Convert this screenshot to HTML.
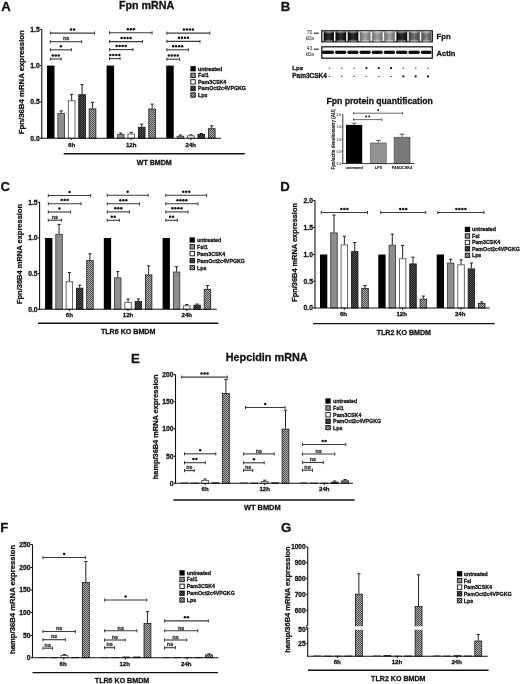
<!DOCTYPE html><html><head><meta charset="utf-8"><style>html,body{margin:0;padding:0;background:#fff;}svg{display:block;filter:blur(0.35px);}</style></head><body>
<svg width="520" height="684" viewBox="0 0 520 684" font-family='"Liberation Sans", sans-serif'>
<defs>
<pattern id="pd" width="2" height="2" patternUnits="userSpaceOnUse"><rect width="2" height="2" fill="#1a1a1a"/><rect width="1" height="1" fill="#555"/><rect x="1" y="1" width="1" height="1" fill="#555"/></pattern>
<pattern id="pl" width="2" height="2" patternUnits="userSpaceOnUse"><rect width="2" height="2" fill="#b0b0b0"/><rect width="1" height="1" fill="#4a4a4a"/><rect x="1" y="1" width="1" height="1" fill="#4a4a4a"/></pattern>
<linearGradient id="gd"><stop offset="0" stop-color="#080808"/><stop offset="0.5" stop-color="#2e2e2e"/><stop offset="1" stop-color="#080808"/></linearGradient>
<linearGradient id="gl"><stop offset="0" stop-color="#6a6a6a"/><stop offset="0.5" stop-color="#a4a4a4"/><stop offset="1" stop-color="#6a6a6a"/></linearGradient>
<linearGradient id="gm"><stop offset="0" stop-color="#3a3a3a"/><stop offset="0.5" stop-color="#747474"/><stop offset="1" stop-color="#3a3a3a"/></linearGradient>
<linearGradient id="gn"><stop offset="0" stop-color="#4a4a4a"/><stop offset="0.5" stop-color="#858585"/><stop offset="1" stop-color="#4a4a4a"/></linearGradient>
</defs>
<rect width="520" height="684" fill="#fff"/>
<text x="1.2" y="11.2" font-size="13.2" text-anchor="start" font-weight="bold" fill="#111" stroke="#111" stroke-width="0.28">A</text>
<text x="119" y="9" font-size="10.7" text-anchor="start" font-weight="bold" fill="#111" stroke="#111" stroke-width="0.28">Fpn mRNA</text>
<rect x="47" y="65.6" width="7.5" height="72.6" fill="#000"/>
<line x1="61.2" y1="110.9" x2="61.2" y2="113.2" stroke="#222" stroke-width="1"/>
<line x1="59.6" y1="110.9" x2="62.8" y2="110.9" stroke="#222" stroke-width="1"/>
<rect x="57.85" y="113.6" width="6.7" height="24.6" fill="#8e8e8e" stroke="#333" stroke-width="0.8"/>
<line x1="71.65" y1="94.3" x2="71.65" y2="100.4" stroke="#222" stroke-width="1"/>
<line x1="70.05" y1="94.3" x2="73.25" y2="94.3" stroke="#222" stroke-width="1"/>
<rect x="68.3" y="100.8" width="6.7" height="37.4" fill="#fff" stroke="#444" stroke-width="0.8"/>
<line x1="82.1" y1="84.6" x2="82.1" y2="94.3" stroke="#222" stroke-width="1"/>
<line x1="80.5" y1="84.6" x2="83.7" y2="84.6" stroke="#222" stroke-width="1"/>
<rect x="78.75" y="94.7" width="6.7" height="43.5" fill="url(#pd)" stroke="#111" stroke-width="0.8"/>
<line x1="92.55" y1="102.4" x2="92.55" y2="108.5" stroke="#222" stroke-width="1"/>
<line x1="90.95" y1="102.4" x2="94.15" y2="102.4" stroke="#222" stroke-width="1"/>
<rect x="89.2" y="108.9" width="6.7" height="29.3" fill="url(#pl)" stroke="#1a1a1a" stroke-width="0.8"/>
<rect x="106.6" y="65.6" width="7.5" height="72.6" fill="#000"/>
<line x1="120.8" y1="133" x2="120.8" y2="134.2" stroke="#222" stroke-width="1"/>
<line x1="119.2" y1="133" x2="122.4" y2="133" stroke="#222" stroke-width="1"/>
<rect x="117.45" y="134.6" width="6.7" height="3.6" fill="#8e8e8e" stroke="#333" stroke-width="0.8"/>
<line x1="131.25" y1="132.4" x2="131.25" y2="133.7" stroke="#222" stroke-width="1"/>
<line x1="129.65" y1="132.4" x2="132.85" y2="132.4" stroke="#222" stroke-width="1"/>
<rect x="127.9" y="134.1" width="6.7" height="4.1" fill="#fff" stroke="#444" stroke-width="0.8"/>
<line x1="141.7" y1="124.2" x2="141.7" y2="126.9" stroke="#222" stroke-width="1"/>
<line x1="140.1" y1="124.2" x2="143.3" y2="124.2" stroke="#222" stroke-width="1"/>
<rect x="138.35" y="127.3" width="6.7" height="10.9" fill="url(#pd)" stroke="#111" stroke-width="0.8"/>
<line x1="152.15" y1="104.1" x2="152.15" y2="108.6" stroke="#222" stroke-width="1"/>
<line x1="150.55" y1="104.1" x2="153.75" y2="104.1" stroke="#222" stroke-width="1"/>
<rect x="148.8" y="109" width="6.7" height="29.2" fill="url(#pl)" stroke="#1a1a1a" stroke-width="0.8"/>
<rect x="166.2" y="65.6" width="7.5" height="72.6" fill="#000"/>
<line x1="180.4" y1="135" x2="180.4" y2="135.8" stroke="#222" stroke-width="1"/>
<line x1="178.8" y1="135" x2="182" y2="135" stroke="#222" stroke-width="1"/>
<rect x="177.05" y="136.2" width="6.7" height="2" fill="#8e8e8e" stroke="#333" stroke-width="0.8"/>
<line x1="190.85" y1="134.8" x2="190.85" y2="135.4" stroke="#222" stroke-width="1"/>
<line x1="189.25" y1="134.8" x2="192.45" y2="134.8" stroke="#222" stroke-width="1"/>
<rect x="187.5" y="135.8" width="6.7" height="2.4" fill="#fff" stroke="#444" stroke-width="0.8"/>
<line x1="201.3" y1="133.5" x2="201.3" y2="134" stroke="#222" stroke-width="1"/>
<line x1="199.7" y1="133.5" x2="202.9" y2="133.5" stroke="#222" stroke-width="1"/>
<rect x="197.95" y="134.4" width="6.7" height="3.8" fill="url(#pd)" stroke="#111" stroke-width="0.8"/>
<line x1="211.75" y1="125.8" x2="211.75" y2="128.3" stroke="#222" stroke-width="1"/>
<line x1="210.15" y1="125.8" x2="213.35" y2="125.8" stroke="#222" stroke-width="1"/>
<rect x="208.4" y="128.7" width="6.7" height="9.5" fill="url(#pl)" stroke="#1a1a1a" stroke-width="0.8"/>
<line x1="41.8" y1="29.3" x2="41.8" y2="138.7" stroke="#111" stroke-width="1.1"/>
<line x1="41.3" y1="138.2" x2="221" y2="138.2" stroke="#111" stroke-width="1.1"/>
<line x1="40" y1="29.3" x2="41.8" y2="29.3" stroke="#111" stroke-width="1"/>
<text x="39.8" y="31.75" font-size="6.8" text-anchor="end" font-weight="bold" fill="#111" stroke="#111" stroke-width="0.28">1.5</text>
<line x1="40" y1="65.6" x2="41.8" y2="65.6" stroke="#111" stroke-width="1"/>
<text x="39.8" y="68.05" font-size="6.8" text-anchor="end" font-weight="bold" fill="#111" stroke="#111" stroke-width="0.28">1.0</text>
<line x1="40" y1="102" x2="41.8" y2="102" stroke="#111" stroke-width="1"/>
<text x="39.8" y="104.45" font-size="6.8" text-anchor="end" font-weight="bold" fill="#111" stroke="#111" stroke-width="0.28">0.5</text>
<line x1="40" y1="138.2" x2="41.8" y2="138.2" stroke="#111" stroke-width="1"/>
<text x="39.8" y="140.65" font-size="6.8" text-anchor="end" font-weight="bold" fill="#111" stroke="#111" stroke-width="0.28">0.0</text>
<line x1="71.65" y1="138.2" x2="71.65" y2="140" stroke="#111" stroke-width="1"/>
<line x1="131.25" y1="138.2" x2="131.25" y2="140" stroke="#111" stroke-width="1"/>
<line x1="190.85" y1="138.2" x2="190.85" y2="140" stroke="#111" stroke-width="1"/>
<line x1="50.4" y1="33.1" x2="94.6" y2="33.1" stroke="#3a3a3a" stroke-width="1.1"/>
<line x1="50.4" y1="31.5" x2="50.4" y2="34.7" stroke="#3a3a3a" stroke-width="1"/>
<line x1="94.6" y1="31.5" x2="94.6" y2="34.7" stroke="#3a3a3a" stroke-width="1"/>
<circle cx="71" cy="29.5" r="1.25" fill="#111"/>
<circle cx="74" cy="29.5" r="1.25" fill="#111"/>
<line x1="50.4" y1="41.7" x2="81.7" y2="41.7" stroke="#3a3a3a" stroke-width="1.1"/>
<line x1="50.4" y1="40.1" x2="50.4" y2="43.3" stroke="#3a3a3a" stroke-width="1"/>
<line x1="81.7" y1="40.1" x2="81.7" y2="43.3" stroke="#3a3a3a" stroke-width="1"/>
<text x="66.05" y="40.4" font-size="5.4" text-anchor="middle" font-weight="bold" fill="#333" stroke="#333" stroke-width="0.28">ns</text>
<line x1="50.4" y1="49.8" x2="71.3" y2="49.8" stroke="#3a3a3a" stroke-width="1.1"/>
<line x1="50.4" y1="48.2" x2="50.4" y2="51.4" stroke="#3a3a3a" stroke-width="1"/>
<line x1="71.3" y1="48.2" x2="71.3" y2="51.4" stroke="#3a3a3a" stroke-width="1"/>
<circle cx="60.85" cy="46.2" r="1.25" fill="#111"/>
<line x1="50.4" y1="59" x2="61.2" y2="59" stroke="#3a3a3a" stroke-width="1.1"/>
<line x1="50.4" y1="57.4" x2="50.4" y2="60.6" stroke="#3a3a3a" stroke-width="1"/>
<line x1="61.2" y1="57.4" x2="61.2" y2="60.6" stroke="#3a3a3a" stroke-width="1"/>
<circle cx="52.8" cy="55.4" r="1.25" fill="#111"/>
<circle cx="55.8" cy="55.4" r="1.25" fill="#111"/>
<circle cx="58.8" cy="55.4" r="1.25" fill="#111"/>
<line x1="109.5" y1="32.8" x2="152.1" y2="32.8" stroke="#3a3a3a" stroke-width="1.1"/>
<line x1="109.5" y1="31.2" x2="109.5" y2="34.4" stroke="#3a3a3a" stroke-width="1"/>
<line x1="152.1" y1="31.2" x2="152.1" y2="34.4" stroke="#3a3a3a" stroke-width="1"/>
<circle cx="127.8" cy="29.2" r="1.25" fill="#111"/>
<circle cx="130.8" cy="29.2" r="1.25" fill="#111"/>
<circle cx="133.8" cy="29.2" r="1.25" fill="#111"/>
<line x1="109.5" y1="41.6" x2="142.6" y2="41.6" stroke="#3a3a3a" stroke-width="1.1"/>
<line x1="109.5" y1="40" x2="109.5" y2="43.2" stroke="#3a3a3a" stroke-width="1"/>
<line x1="142.6" y1="40" x2="142.6" y2="43.2" stroke="#3a3a3a" stroke-width="1"/>
<circle cx="121.55" cy="38" r="1.25" fill="#111"/>
<circle cx="124.55" cy="38" r="1.25" fill="#111"/>
<circle cx="127.55" cy="38" r="1.25" fill="#111"/>
<circle cx="130.55" cy="38" r="1.25" fill="#111"/>
<line x1="109.5" y1="49.6" x2="132.9" y2="49.6" stroke="#3a3a3a" stroke-width="1.1"/>
<line x1="109.5" y1="48" x2="109.5" y2="51.2" stroke="#3a3a3a" stroke-width="1"/>
<line x1="132.9" y1="48" x2="132.9" y2="51.2" stroke="#3a3a3a" stroke-width="1"/>
<circle cx="116.7" cy="46" r="1.25" fill="#111"/>
<circle cx="119.7" cy="46" r="1.25" fill="#111"/>
<circle cx="122.7" cy="46" r="1.25" fill="#111"/>
<circle cx="125.7" cy="46" r="1.25" fill="#111"/>
<line x1="109.5" y1="58.6" x2="120.1" y2="58.6" stroke="#3a3a3a" stroke-width="1.1"/>
<line x1="109.5" y1="57" x2="109.5" y2="60.2" stroke="#3a3a3a" stroke-width="1"/>
<line x1="120.1" y1="57" x2="120.1" y2="60.2" stroke="#3a3a3a" stroke-width="1"/>
<circle cx="110.3" cy="55" r="1.25" fill="#111"/>
<circle cx="113.3" cy="55" r="1.25" fill="#111"/>
<circle cx="116.3" cy="55" r="1.25" fill="#111"/>
<circle cx="119.3" cy="55" r="1.25" fill="#111"/>
<line x1="166.9" y1="33.1" x2="209.8" y2="33.1" stroke="#3a3a3a" stroke-width="1.1"/>
<line x1="166.9" y1="31.5" x2="166.9" y2="34.7" stroke="#3a3a3a" stroke-width="1"/>
<line x1="209.8" y1="31.5" x2="209.8" y2="34.7" stroke="#3a3a3a" stroke-width="1"/>
<circle cx="183.85" cy="29.5" r="1.25" fill="#111"/>
<circle cx="186.85" cy="29.5" r="1.25" fill="#111"/>
<circle cx="189.85" cy="29.5" r="1.25" fill="#111"/>
<circle cx="192.85" cy="29.5" r="1.25" fill="#111"/>
<line x1="166.9" y1="41.4" x2="200" y2="41.4" stroke="#3a3a3a" stroke-width="1.1"/>
<line x1="166.9" y1="39.8" x2="166.9" y2="43" stroke="#3a3a3a" stroke-width="1"/>
<line x1="200" y1="39.8" x2="200" y2="43" stroke="#3a3a3a" stroke-width="1"/>
<circle cx="178.95" cy="37.8" r="1.25" fill="#111"/>
<circle cx="181.95" cy="37.8" r="1.25" fill="#111"/>
<circle cx="184.95" cy="37.8" r="1.25" fill="#111"/>
<circle cx="187.95" cy="37.8" r="1.25" fill="#111"/>
<line x1="166.9" y1="49.8" x2="188.3" y2="49.8" stroke="#3a3a3a" stroke-width="1.1"/>
<line x1="166.9" y1="48.2" x2="166.9" y2="51.4" stroke="#3a3a3a" stroke-width="1"/>
<line x1="188.3" y1="48.2" x2="188.3" y2="51.4" stroke="#3a3a3a" stroke-width="1"/>
<circle cx="173.1" cy="46.2" r="1.25" fill="#111"/>
<circle cx="176.1" cy="46.2" r="1.25" fill="#111"/>
<circle cx="179.1" cy="46.2" r="1.25" fill="#111"/>
<circle cx="182.1" cy="46.2" r="1.25" fill="#111"/>
<line x1="166.9" y1="59.2" x2="179.6" y2="59.2" stroke="#3a3a3a" stroke-width="1.1"/>
<line x1="166.9" y1="57.6" x2="166.9" y2="60.8" stroke="#3a3a3a" stroke-width="1"/>
<line x1="179.6" y1="57.6" x2="179.6" y2="60.8" stroke="#3a3a3a" stroke-width="1"/>
<circle cx="168.75" cy="55.6" r="1.25" fill="#111"/>
<circle cx="171.75" cy="55.6" r="1.25" fill="#111"/>
<circle cx="174.75" cy="55.6" r="1.25" fill="#111"/>
<circle cx="177.75" cy="55.6" r="1.25" fill="#111"/>
<text x="71.65" y="146.6" font-size="6.1" text-anchor="middle" font-weight="bold" fill="#111" stroke="#111" stroke-width="0.28">6h</text>
<text x="131.25" y="146.6" font-size="6.1" text-anchor="middle" font-weight="bold" fill="#111" stroke="#111" stroke-width="0.28">12h</text>
<text x="190.85" y="146.6" font-size="6.1" text-anchor="middle" font-weight="bold" fill="#111" stroke="#111" stroke-width="0.28">24h</text>
<line x1="63.7" y1="153.7" x2="244.8" y2="153.7" stroke="#111" stroke-width="1.4"/>
<text x="154.25" y="165.4" font-size="7.1" text-anchor="middle" font-weight="bold" fill="#111" stroke="#111" stroke-width="0.28">WT BMDM</text>
<text x="24" y="82.2" font-size="7.8" text-anchor="middle" font-weight="bold" fill="#111" transform="rotate(-90 24 82.2)" stroke="#111" stroke-width="0.28">Fpn/36B4 mRNA expression</text>
<rect x="190.4" y="66.05" width="5.3" height="5.3" fill="#000"/>
<text x="198" y="70.61" font-size="5.3" text-anchor="start" font-weight="bold" fill="#111" stroke="#111" stroke-width="0.28">untreated</text>
<rect x="190.85" y="73.2" width="4.4" height="4.4" fill="#8e8e8e" stroke="#111" stroke-width="0.9"/>
<text x="198" y="77.31" font-size="5.3" text-anchor="start" font-weight="bold" fill="#111" stroke="#111" stroke-width="0.28">Fsl1</text>
<rect x="190.85" y="79.7" width="4.4" height="4.4" fill="#fff" stroke="#111" stroke-width="0.9"/>
<text x="198" y="83.81" font-size="5.3" text-anchor="start" font-weight="bold" fill="#111" stroke="#111" stroke-width="0.28">Pam3CSK4</text>
<rect x="190.85" y="86.3" width="4.4" height="4.4" fill="url(#pd)" stroke="#111" stroke-width="0.9"/>
<text x="198" y="90.41" font-size="5.3" text-anchor="start" font-weight="bold" fill="#111" stroke="#111" stroke-width="0.28">PamOct2c4VPGKG</text>
<rect x="190.85" y="92.8" width="4.4" height="4.4" fill="url(#pl)" stroke="#111" stroke-width="0.9"/>
<text x="198" y="96.91" font-size="5.3" text-anchor="start" font-weight="bold" fill="#111" stroke="#111" stroke-width="0.28">Lps</text>
<text x="0.6" y="190.9" font-size="13.2" text-anchor="start" font-weight="bold" fill="#111" stroke="#111" stroke-width="0.28">C</text>
<rect x="45.1" y="238" width="7.3" height="71.2" fill="#000"/>
<line x1="59.05" y1="224.4" x2="59.05" y2="233.9" stroke="#222" stroke-width="1"/>
<line x1="57.45" y1="224.4" x2="60.65" y2="224.4" stroke="#222" stroke-width="1"/>
<rect x="55.8" y="234.3" width="6.5" height="74.9" fill="#8e8e8e" stroke="#333" stroke-width="0.8"/>
<line x1="69.35" y1="272.5" x2="69.35" y2="281.4" stroke="#222" stroke-width="1"/>
<line x1="67.75" y1="272.5" x2="70.95" y2="272.5" stroke="#222" stroke-width="1"/>
<rect x="66.1" y="281.8" width="6.5" height="27.4" fill="#fff" stroke="#444" stroke-width="0.8"/>
<line x1="79.65" y1="285.2" x2="79.65" y2="287.8" stroke="#222" stroke-width="1"/>
<line x1="78.05" y1="285.2" x2="81.25" y2="285.2" stroke="#222" stroke-width="1"/>
<rect x="76.4" y="288.2" width="6.5" height="21" fill="url(#pd)" stroke="#111" stroke-width="0.8"/>
<line x1="89.95" y1="253.8" x2="89.95" y2="260.2" stroke="#222" stroke-width="1"/>
<line x1="88.35" y1="253.8" x2="91.55" y2="253.8" stroke="#222" stroke-width="1"/>
<rect x="86.7" y="260.6" width="6.5" height="48.6" fill="url(#pl)" stroke="#1a1a1a" stroke-width="0.8"/>
<rect x="103.8" y="238" width="7.3" height="71.2" fill="#000"/>
<line x1="117.75" y1="271.6" x2="117.75" y2="277.4" stroke="#222" stroke-width="1"/>
<line x1="116.15" y1="271.6" x2="119.35" y2="271.6" stroke="#222" stroke-width="1"/>
<rect x="114.5" y="277.8" width="6.5" height="31.4" fill="#8e8e8e" stroke="#333" stroke-width="0.8"/>
<line x1="128.05" y1="299" x2="128.05" y2="301.9" stroke="#222" stroke-width="1"/>
<line x1="126.45" y1="299" x2="129.65" y2="299" stroke="#222" stroke-width="1"/>
<rect x="124.8" y="302.3" width="6.5" height="6.9" fill="#fff" stroke="#444" stroke-width="0.8"/>
<line x1="138.35" y1="299" x2="138.35" y2="301" stroke="#222" stroke-width="1"/>
<line x1="136.75" y1="299" x2="139.95" y2="299" stroke="#222" stroke-width="1"/>
<rect x="135.1" y="301.4" width="6.5" height="7.8" fill="url(#pd)" stroke="#111" stroke-width="0.8"/>
<line x1="148.65" y1="265.9" x2="148.65" y2="274.5" stroke="#222" stroke-width="1"/>
<line x1="147.05" y1="265.9" x2="150.25" y2="265.9" stroke="#222" stroke-width="1"/>
<rect x="145.4" y="274.9" width="6.5" height="34.3" fill="url(#pl)" stroke="#1a1a1a" stroke-width="0.8"/>
<rect x="162.6" y="238" width="7.3" height="71.2" fill="#000"/>
<line x1="176.55" y1="266.7" x2="176.55" y2="271.6" stroke="#222" stroke-width="1"/>
<line x1="174.95" y1="266.7" x2="178.15" y2="266.7" stroke="#222" stroke-width="1"/>
<rect x="173.3" y="272" width="6.5" height="37.2" fill="#8e8e8e" stroke="#333" stroke-width="0.8"/>
<line x1="186.85" y1="304.5" x2="186.85" y2="305.4" stroke="#222" stroke-width="1"/>
<line x1="185.25" y1="304.5" x2="188.45" y2="304.5" stroke="#222" stroke-width="1"/>
<rect x="183.6" y="305.8" width="6.5" height="3.4" fill="#fff" stroke="#444" stroke-width="0.8"/>
<line x1="197.15" y1="304" x2="197.15" y2="304.8" stroke="#222" stroke-width="1"/>
<line x1="195.55" y1="304" x2="198.75" y2="304" stroke="#222" stroke-width="1"/>
<rect x="193.9" y="305.2" width="6.5" height="4" fill="url(#pd)" stroke="#111" stroke-width="0.8"/>
<line x1="207.45" y1="285.5" x2="207.45" y2="288.9" stroke="#222" stroke-width="1"/>
<line x1="205.85" y1="285.5" x2="209.05" y2="285.5" stroke="#222" stroke-width="1"/>
<rect x="204.2" y="289.3" width="6.5" height="19.9" fill="url(#pl)" stroke="#1a1a1a" stroke-width="0.8"/>
<line x1="39.6" y1="202.1" x2="39.6" y2="309.7" stroke="#111" stroke-width="1.1"/>
<line x1="39.1" y1="309.2" x2="216.8" y2="309.2" stroke="#111" stroke-width="1.1"/>
<line x1="37.8" y1="202.1" x2="39.6" y2="202.1" stroke="#111" stroke-width="1"/>
<text x="37.6" y="204.55" font-size="6.8" text-anchor="end" font-weight="bold" fill="#111" stroke="#111" stroke-width="0.28">1.5</text>
<line x1="37.8" y1="238" x2="39.6" y2="238" stroke="#111" stroke-width="1"/>
<text x="37.6" y="240.45" font-size="6.8" text-anchor="end" font-weight="bold" fill="#111" stroke="#111" stroke-width="0.28">1.0</text>
<line x1="37.8" y1="273.6" x2="39.6" y2="273.6" stroke="#111" stroke-width="1"/>
<text x="37.6" y="276.05" font-size="6.8" text-anchor="end" font-weight="bold" fill="#111" stroke="#111" stroke-width="0.28">0.5</text>
<line x1="37.8" y1="309.2" x2="39.6" y2="309.2" stroke="#111" stroke-width="1"/>
<text x="37.6" y="311.65" font-size="6.8" text-anchor="end" font-weight="bold" fill="#111" stroke="#111" stroke-width="0.28">0.0</text>
<line x1="69.35" y1="309.2" x2="69.35" y2="311" stroke="#111" stroke-width="1"/>
<line x1="128.05" y1="309.2" x2="128.05" y2="311" stroke="#111" stroke-width="1"/>
<line x1="186.85" y1="309.2" x2="186.85" y2="311" stroke="#111" stroke-width="1"/>
<line x1="48.3" y1="195.5" x2="90.7" y2="195.5" stroke="#3a3a3a" stroke-width="1.1"/>
<line x1="48.3" y1="193.9" x2="48.3" y2="197.1" stroke="#3a3a3a" stroke-width="1"/>
<line x1="90.7" y1="193.9" x2="90.7" y2="197.1" stroke="#3a3a3a" stroke-width="1"/>
<circle cx="69.5" cy="191.9" r="1.25" fill="#111"/>
<line x1="48.3" y1="203.7" x2="81" y2="203.7" stroke="#3a3a3a" stroke-width="1.1"/>
<line x1="48.3" y1="202.1" x2="48.3" y2="205.3" stroke="#3a3a3a" stroke-width="1"/>
<line x1="81" y1="202.1" x2="81" y2="205.3" stroke="#3a3a3a" stroke-width="1"/>
<circle cx="61.65" cy="200.1" r="1.25" fill="#111"/>
<circle cx="64.65" cy="200.1" r="1.25" fill="#111"/>
<circle cx="67.65" cy="200.1" r="1.25" fill="#111"/>
<line x1="48.3" y1="212" x2="70.6" y2="212" stroke="#3a3a3a" stroke-width="1.1"/>
<line x1="48.3" y1="210.4" x2="48.3" y2="213.6" stroke="#3a3a3a" stroke-width="1"/>
<line x1="70.6" y1="210.4" x2="70.6" y2="213.6" stroke="#3a3a3a" stroke-width="1"/>
<circle cx="59.45" cy="208.4" r="1.25" fill="#111"/>
<line x1="48.3" y1="220.2" x2="61.5" y2="220.2" stroke="#3a3a3a" stroke-width="1.1"/>
<line x1="48.3" y1="218.6" x2="48.3" y2="221.8" stroke="#3a3a3a" stroke-width="1"/>
<line x1="61.5" y1="218.6" x2="61.5" y2="221.8" stroke="#3a3a3a" stroke-width="1"/>
<text x="54.9" y="218.9" font-size="5.4" text-anchor="middle" font-weight="bold" fill="#333" stroke="#333" stroke-width="0.28">ns</text>
<line x1="107.2" y1="195.3" x2="148.2" y2="195.3" stroke="#3a3a3a" stroke-width="1.1"/>
<line x1="107.2" y1="193.7" x2="107.2" y2="196.9" stroke="#3a3a3a" stroke-width="1"/>
<line x1="148.2" y1="193.7" x2="148.2" y2="196.9" stroke="#3a3a3a" stroke-width="1"/>
<circle cx="127.7" cy="191.7" r="1.25" fill="#111"/>
<line x1="107.2" y1="203.8" x2="139.5" y2="203.8" stroke="#3a3a3a" stroke-width="1.1"/>
<line x1="107.2" y1="202.2" x2="107.2" y2="205.4" stroke="#3a3a3a" stroke-width="1"/>
<line x1="139.5" y1="202.2" x2="139.5" y2="205.4" stroke="#3a3a3a" stroke-width="1"/>
<circle cx="120.35" cy="200.2" r="1.25" fill="#111"/>
<circle cx="123.35" cy="200.2" r="1.25" fill="#111"/>
<circle cx="126.35" cy="200.2" r="1.25" fill="#111"/>
<line x1="107.2" y1="211.9" x2="129.4" y2="211.9" stroke="#3a3a3a" stroke-width="1.1"/>
<line x1="107.2" y1="210.3" x2="107.2" y2="213.5" stroke="#3a3a3a" stroke-width="1"/>
<line x1="129.4" y1="210.3" x2="129.4" y2="213.5" stroke="#3a3a3a" stroke-width="1"/>
<circle cx="115.3" cy="208.3" r="1.25" fill="#111"/>
<circle cx="118.3" cy="208.3" r="1.25" fill="#111"/>
<circle cx="121.3" cy="208.3" r="1.25" fill="#111"/>
<line x1="107.2" y1="220.3" x2="119.3" y2="220.3" stroke="#3a3a3a" stroke-width="1.1"/>
<line x1="107.2" y1="218.7" x2="107.2" y2="221.9" stroke="#3a3a3a" stroke-width="1"/>
<line x1="119.3" y1="218.7" x2="119.3" y2="221.9" stroke="#3a3a3a" stroke-width="1"/>
<circle cx="111.75" cy="216.7" r="1.25" fill="#111"/>
<circle cx="114.75" cy="216.7" r="1.25" fill="#111"/>
<line x1="165.8" y1="195.3" x2="206.7" y2="195.3" stroke="#3a3a3a" stroke-width="1.1"/>
<line x1="165.8" y1="193.7" x2="165.8" y2="196.9" stroke="#3a3a3a" stroke-width="1"/>
<line x1="206.7" y1="193.7" x2="206.7" y2="196.9" stroke="#3a3a3a" stroke-width="1"/>
<circle cx="183.25" cy="191.7" r="1.25" fill="#111"/>
<circle cx="186.25" cy="191.7" r="1.25" fill="#111"/>
<circle cx="189.25" cy="191.7" r="1.25" fill="#111"/>
<line x1="165.8" y1="203.8" x2="198" y2="203.8" stroke="#3a3a3a" stroke-width="1.1"/>
<line x1="165.8" y1="202.2" x2="165.8" y2="205.4" stroke="#3a3a3a" stroke-width="1"/>
<line x1="198" y1="202.2" x2="198" y2="205.4" stroke="#3a3a3a" stroke-width="1"/>
<circle cx="177.4" cy="200.2" r="1.25" fill="#111"/>
<circle cx="180.4" cy="200.2" r="1.25" fill="#111"/>
<circle cx="183.4" cy="200.2" r="1.25" fill="#111"/>
<circle cx="186.4" cy="200.2" r="1.25" fill="#111"/>
<line x1="165.8" y1="211.9" x2="188" y2="211.9" stroke="#3a3a3a" stroke-width="1.1"/>
<line x1="165.8" y1="210.3" x2="165.8" y2="213.5" stroke="#3a3a3a" stroke-width="1"/>
<line x1="188" y1="210.3" x2="188" y2="213.5" stroke="#3a3a3a" stroke-width="1"/>
<circle cx="172.4" cy="208.3" r="1.25" fill="#111"/>
<circle cx="175.4" cy="208.3" r="1.25" fill="#111"/>
<circle cx="178.4" cy="208.3" r="1.25" fill="#111"/>
<circle cx="181.4" cy="208.3" r="1.25" fill="#111"/>
<line x1="165.8" y1="220.3" x2="177.3" y2="220.3" stroke="#3a3a3a" stroke-width="1.1"/>
<line x1="165.8" y1="218.7" x2="165.8" y2="221.9" stroke="#3a3a3a" stroke-width="1"/>
<line x1="177.3" y1="218.7" x2="177.3" y2="221.9" stroke="#3a3a3a" stroke-width="1"/>
<circle cx="170.05" cy="216.7" r="1.25" fill="#111"/>
<circle cx="173.05" cy="216.7" r="1.25" fill="#111"/>
<text x="69.35" y="317.1" font-size="6.1" text-anchor="middle" font-weight="bold" fill="#111" stroke="#111" stroke-width="0.28">6h</text>
<text x="128.05" y="317.1" font-size="6.1" text-anchor="middle" font-weight="bold" fill="#111" stroke="#111" stroke-width="0.28">12h</text>
<text x="186.85" y="317.1" font-size="6.1" text-anchor="middle" font-weight="bold" fill="#111" stroke="#111" stroke-width="0.28">24h</text>
<line x1="38" y1="323.3" x2="218.3" y2="323.3" stroke="#111" stroke-width="1.4"/>
<text x="128.15" y="334" font-size="7.1" text-anchor="middle" font-weight="bold" fill="#111" stroke="#111" stroke-width="0.28">TLR6 KO BMDM</text>
<text x="22.4" y="254" font-size="7.5" text-anchor="middle" font-weight="bold" fill="#111" transform="rotate(-90 22.4 254)" stroke="#111" stroke-width="0.28">Fpn/36B4 mRNA expression</text>
<rect x="189.6" y="237.35" width="5.3" height="5.3" fill="#000"/>
<text x="197" y="241.91" font-size="5.3" text-anchor="start" font-weight="bold" fill="#111" stroke="#111" stroke-width="0.28">untreated</text>
<rect x="190.05" y="244.6" width="4.4" height="4.4" fill="#8e8e8e" stroke="#111" stroke-width="0.9"/>
<text x="197" y="248.71" font-size="5.3" text-anchor="start" font-weight="bold" fill="#111" stroke="#111" stroke-width="0.28">Fsl1</text>
<rect x="190.05" y="251.4" width="4.4" height="4.4" fill="#fff" stroke="#111" stroke-width="0.9"/>
<text x="197" y="255.51" font-size="5.3" text-anchor="start" font-weight="bold" fill="#111" stroke="#111" stroke-width="0.28">Pam3CSK4</text>
<rect x="190.05" y="258.4" width="4.4" height="4.4" fill="url(#pd)" stroke="#111" stroke-width="0.9"/>
<text x="197" y="262.51" font-size="5.3" text-anchor="start" font-weight="bold" fill="#111" stroke="#111" stroke-width="0.28">PamOct2c4VPGKG</text>
<rect x="190.05" y="265.4" width="4.4" height="4.4" fill="url(#pl)" stroke="#111" stroke-width="0.9"/>
<text x="197" y="269.51" font-size="5.3" text-anchor="start" font-weight="bold" fill="#111" stroke="#111" stroke-width="0.28">Lps</text>
<text x="280.3" y="191" font-size="13.2" text-anchor="start" font-weight="bold" fill="#111" stroke="#111" stroke-width="0.28">D</text>
<rect x="320" y="254.5" width="7.3" height="53.5" fill="#000"/>
<line x1="334" y1="215" x2="334" y2="232.5" stroke="#222" stroke-width="1"/>
<line x1="332.4" y1="215" x2="335.6" y2="215" stroke="#222" stroke-width="1"/>
<rect x="330.75" y="232.9" width="6.5" height="75.1" fill="#8e8e8e" stroke="#333" stroke-width="0.8"/>
<line x1="344.35" y1="236.25" x2="344.35" y2="244.5" stroke="#222" stroke-width="1"/>
<line x1="342.75" y1="236.25" x2="345.95" y2="236.25" stroke="#222" stroke-width="1"/>
<rect x="341.1" y="244.9" width="6.5" height="63.1" fill="#fff" stroke="#444" stroke-width="0.8"/>
<line x1="354.7" y1="242.5" x2="354.7" y2="251.25" stroke="#222" stroke-width="1"/>
<line x1="353.1" y1="242.5" x2="356.3" y2="242.5" stroke="#222" stroke-width="1"/>
<rect x="351.45" y="251.65" width="6.5" height="56.35" fill="url(#pd)" stroke="#111" stroke-width="0.8"/>
<line x1="365.05" y1="285.5" x2="365.05" y2="288" stroke="#222" stroke-width="1"/>
<line x1="363.45" y1="285.5" x2="366.65" y2="285.5" stroke="#222" stroke-width="1"/>
<rect x="361.8" y="288.4" width="6.5" height="19.6" fill="url(#pl)" stroke="#1a1a1a" stroke-width="0.8"/>
<rect x="378.3" y="254.5" width="7.3" height="53.5" fill="#000"/>
<line x1="392.3" y1="234.1" x2="392.3" y2="244.8" stroke="#222" stroke-width="1"/>
<line x1="390.7" y1="234.1" x2="393.9" y2="234.1" stroke="#222" stroke-width="1"/>
<rect x="389.05" y="245.2" width="6.5" height="62.8" fill="#8e8e8e" stroke="#333" stroke-width="0.8"/>
<line x1="402.65" y1="245.4" x2="402.65" y2="258.4" stroke="#222" stroke-width="1"/>
<line x1="401.05" y1="245.4" x2="404.25" y2="245.4" stroke="#222" stroke-width="1"/>
<rect x="399.4" y="258.8" width="6.5" height="49.2" fill="#fff" stroke="#444" stroke-width="0.8"/>
<line x1="413" y1="257.2" x2="413" y2="263.5" stroke="#222" stroke-width="1"/>
<line x1="411.4" y1="257.2" x2="414.6" y2="257.2" stroke="#222" stroke-width="1"/>
<rect x="409.75" y="263.9" width="6.5" height="44.1" fill="url(#pd)" stroke="#111" stroke-width="0.8"/>
<line x1="423.35" y1="296.1" x2="423.35" y2="298.7" stroke="#222" stroke-width="1"/>
<line x1="421.75" y1="296.1" x2="424.95" y2="296.1" stroke="#222" stroke-width="1"/>
<rect x="420.1" y="299.1" width="6.5" height="8.9" fill="url(#pl)" stroke="#1a1a1a" stroke-width="0.8"/>
<rect x="436.7" y="254.5" width="7.3" height="53.5" fill="#000"/>
<line x1="450.7" y1="259.2" x2="450.7" y2="262.7" stroke="#222" stroke-width="1"/>
<line x1="449.1" y1="259.2" x2="452.3" y2="259.2" stroke="#222" stroke-width="1"/>
<rect x="447.45" y="263.1" width="6.5" height="44.9" fill="#8e8e8e" stroke="#333" stroke-width="0.8"/>
<line x1="461.05" y1="259.8" x2="461.05" y2="264.4" stroke="#222" stroke-width="1"/>
<line x1="459.45" y1="259.8" x2="462.65" y2="259.8" stroke="#222" stroke-width="1"/>
<rect x="457.8" y="264.8" width="6.5" height="43.2" fill="#fff" stroke="#444" stroke-width="0.8"/>
<line x1="471.4" y1="263" x2="471.4" y2="268.5" stroke="#222" stroke-width="1"/>
<line x1="469.8" y1="263" x2="473" y2="263" stroke="#222" stroke-width="1"/>
<rect x="468.15" y="268.9" width="6.5" height="39.1" fill="url(#pd)" stroke="#111" stroke-width="0.8"/>
<line x1="481.75" y1="301.9" x2="481.75" y2="303" stroke="#222" stroke-width="1"/>
<line x1="480.15" y1="301.9" x2="483.35" y2="301.9" stroke="#222" stroke-width="1"/>
<rect x="478.5" y="303.4" width="6.5" height="4.6" fill="url(#pl)" stroke="#1a1a1a" stroke-width="0.8"/>
<line x1="315" y1="200.5" x2="315" y2="308.5" stroke="#111" stroke-width="1.1"/>
<line x1="314.5" y1="308" x2="489.7" y2="308" stroke="#111" stroke-width="1.1"/>
<line x1="313.2" y1="200.5" x2="315" y2="200.5" stroke="#111" stroke-width="1"/>
<text x="313" y="202.95" font-size="6.8" text-anchor="end" font-weight="bold" fill="#111" stroke="#111" stroke-width="0.28">2.0</text>
<line x1="313.2" y1="227.5" x2="315" y2="227.5" stroke="#111" stroke-width="1"/>
<text x="313" y="229.95" font-size="6.8" text-anchor="end" font-weight="bold" fill="#111" stroke="#111" stroke-width="0.28">1.5</text>
<line x1="313.2" y1="254.5" x2="315" y2="254.5" stroke="#111" stroke-width="1"/>
<text x="313" y="256.95" font-size="6.8" text-anchor="end" font-weight="bold" fill="#111" stroke="#111" stroke-width="0.28">1.0</text>
<line x1="313.2" y1="281.25" x2="315" y2="281.25" stroke="#111" stroke-width="1"/>
<text x="313" y="283.7" font-size="6.8" text-anchor="end" font-weight="bold" fill="#111" stroke="#111" stroke-width="0.28">0.5</text>
<line x1="313.2" y1="308" x2="315" y2="308" stroke="#111" stroke-width="1"/>
<text x="313" y="310.45" font-size="6.8" text-anchor="end" font-weight="bold" fill="#111" stroke="#111" stroke-width="0.28">0.0</text>
<line x1="344.35" y1="308" x2="344.35" y2="309.8" stroke="#111" stroke-width="1"/>
<line x1="402.65" y1="308" x2="402.65" y2="309.8" stroke="#111" stroke-width="1"/>
<line x1="461.05" y1="308" x2="461.05" y2="309.8" stroke="#111" stroke-width="1"/>
<line x1="321.3" y1="212.5" x2="367.5" y2="212.5" stroke="#3a3a3a" stroke-width="1.1"/>
<line x1="321.3" y1="210.9" x2="321.3" y2="214.1" stroke="#3a3a3a" stroke-width="1"/>
<line x1="367.5" y1="210.9" x2="367.5" y2="214.1" stroke="#3a3a3a" stroke-width="1"/>
<circle cx="341.4" cy="208.9" r="1.25" fill="#111"/>
<circle cx="344.4" cy="208.9" r="1.25" fill="#111"/>
<circle cx="347.4" cy="208.9" r="1.25" fill="#111"/>
<line x1="380.7" y1="212.5" x2="425.7" y2="212.5" stroke="#3a3a3a" stroke-width="1.1"/>
<line x1="380.7" y1="210.9" x2="380.7" y2="214.1" stroke="#3a3a3a" stroke-width="1"/>
<line x1="425.7" y1="210.9" x2="425.7" y2="214.1" stroke="#3a3a3a" stroke-width="1"/>
<circle cx="400.2" cy="208.9" r="1.25" fill="#111"/>
<circle cx="403.2" cy="208.9" r="1.25" fill="#111"/>
<circle cx="406.2" cy="208.9" r="1.25" fill="#111"/>
<line x1="437.8" y1="212.5" x2="483.9" y2="212.5" stroke="#3a3a3a" stroke-width="1.1"/>
<line x1="437.8" y1="210.9" x2="437.8" y2="214.1" stroke="#3a3a3a" stroke-width="1"/>
<line x1="483.9" y1="210.9" x2="483.9" y2="214.1" stroke="#3a3a3a" stroke-width="1"/>
<circle cx="456.35" cy="208.9" r="1.25" fill="#111"/>
<circle cx="459.35" cy="208.9" r="1.25" fill="#111"/>
<circle cx="462.35" cy="208.9" r="1.25" fill="#111"/>
<circle cx="465.35" cy="208.9" r="1.25" fill="#111"/>
<text x="343.45" y="315.6" font-size="6.1" text-anchor="middle" font-weight="bold" fill="#111" stroke="#111" stroke-width="0.28">6h</text>
<text x="401.75" y="315.6" font-size="6.1" text-anchor="middle" font-weight="bold" fill="#111" stroke="#111" stroke-width="0.28">12h</text>
<text x="460.15" y="315.6" font-size="6.1" text-anchor="middle" font-weight="bold" fill="#111" stroke="#111" stroke-width="0.28">24h</text>
<line x1="313.1" y1="323.6" x2="494.6" y2="323.6" stroke="#111" stroke-width="1.4"/>
<text x="403.85" y="334.7" font-size="7.1" text-anchor="middle" font-weight="bold" fill="#111" stroke="#111" stroke-width="0.28">TLR2 KO BMDM</text>
<text x="297.1" y="252.4" font-size="7.4" text-anchor="middle" font-weight="bold" fill="#111" transform="rotate(-90 297.1 252.4)" stroke="#111" stroke-width="0.28">Fpn/36B4 mRNA expression</text>
<rect x="464.8" y="226.75" width="5.3" height="5.3" fill="#000"/>
<text x="471.9" y="231.31" font-size="5.3" text-anchor="start" font-weight="bold" fill="#111" stroke="#111" stroke-width="0.28">untreated</text>
<rect x="465.25" y="233.8" width="4.4" height="4.4" fill="#8e8e8e" stroke="#111" stroke-width="0.9"/>
<text x="471.9" y="237.91" font-size="5.3" text-anchor="start" font-weight="bold" fill="#111" stroke="#111" stroke-width="0.28">Fsl</text>
<rect x="465.25" y="240.3" width="4.4" height="4.4" fill="#fff" stroke="#111" stroke-width="0.9"/>
<text x="471.9" y="244.41" font-size="5.3" text-anchor="start" font-weight="bold" fill="#111" stroke="#111" stroke-width="0.28">Pam3CSK4</text>
<rect x="465.25" y="246.6" width="4.4" height="4.4" fill="url(#pd)" stroke="#111" stroke-width="0.9"/>
<text x="471.9" y="250.71" font-size="5.3" text-anchor="start" font-weight="bold" fill="#111" stroke="#111" stroke-width="0.28">PamOct2c4VPGKG</text>
<rect x="465.25" y="253.2" width="4.4" height="4.4" fill="url(#pl)" stroke="#111" stroke-width="0.9"/>
<text x="471.9" y="257.31" font-size="5.3" text-anchor="start" font-weight="bold" fill="#111" stroke="#111" stroke-width="0.28">Lps</text>
<text x="131.1" y="363.3" font-size="13.2" text-anchor="start" font-weight="bold" fill="#111" stroke="#111" stroke-width="0.28">E</text>
<text x="225.7" y="360.8" font-size="10.85" text-anchor="start" font-weight="bold" fill="#111" stroke="#111" stroke-width="0.28">Hepcidin mRNA</text>
<rect x="180.5" y="482.6" width="7.6" height="0.7" fill="#000"/>
<rect x="191.3" y="483" width="6.8" height="0.3" fill="#8e8e8e" stroke="#333" stroke-width="0.8"/>
<line x1="205.1" y1="479" x2="205.1" y2="480.1" stroke="#222" stroke-width="1"/>
<line x1="203.5" y1="479" x2="206.7" y2="479" stroke="#222" stroke-width="1"/>
<rect x="201.7" y="480.5" width="6.8" height="2.8" fill="#fff" stroke="#444" stroke-width="0.8"/>
<rect x="212.1" y="482.8" width="6.8" height="0.5" fill="url(#pd)" stroke="#111" stroke-width="0.8"/>
<line x1="225.9" y1="379.5" x2="225.9" y2="393" stroke="#222" stroke-width="1"/>
<line x1="224.3" y1="379.5" x2="227.5" y2="379.5" stroke="#222" stroke-width="1"/>
<rect x="222.5" y="393.4" width="6.8" height="89.9" fill="url(#pl)" stroke="#1a1a1a" stroke-width="0.8"/>
<rect x="240.1" y="482.6" width="7.6" height="0.7" fill="#000"/>
<rect x="250.9" y="483" width="6.8" height="0.3" fill="#8e8e8e" stroke="#333" stroke-width="0.8"/>
<line x1="264.7" y1="480.2" x2="264.7" y2="481" stroke="#222" stroke-width="1"/>
<line x1="263.1" y1="480.2" x2="266.3" y2="480.2" stroke="#222" stroke-width="1"/>
<rect x="261.3" y="481.4" width="6.8" height="1.9" fill="#fff" stroke="#444" stroke-width="0.8"/>
<rect x="271.7" y="482.8" width="6.8" height="0.5" fill="url(#pd)" stroke="#111" stroke-width="0.8"/>
<line x1="285.5" y1="410.2" x2="285.5" y2="428.7" stroke="#222" stroke-width="1"/>
<line x1="283.9" y1="410.2" x2="287.1" y2="410.2" stroke="#222" stroke-width="1"/>
<rect x="282.1" y="429.1" width="6.8" height="54.2" fill="url(#pl)" stroke="#1a1a1a" stroke-width="0.8"/>
<rect x="299.7" y="482.6" width="7.6" height="0.7" fill="#000"/>
<rect x="310.5" y="483" width="6.8" height="0.3" fill="#8e8e8e" stroke="#333" stroke-width="0.8"/>
<rect x="320.9" y="483" width="6.8" height="0.3" fill="#fff" stroke="#444" stroke-width="0.8"/>
<line x1="334.7" y1="481" x2="334.7" y2="481.8" stroke="#222" stroke-width="1"/>
<line x1="333.1" y1="481" x2="336.3" y2="481" stroke="#222" stroke-width="1"/>
<rect x="331.3" y="482.2" width="6.8" height="1.1" fill="url(#pd)" stroke="#111" stroke-width="0.8"/>
<line x1="345.1" y1="479.5" x2="345.1" y2="480.4" stroke="#222" stroke-width="1"/>
<line x1="343.5" y1="479.5" x2="346.7" y2="479.5" stroke="#222" stroke-width="1"/>
<rect x="341.7" y="480.8" width="6.8" height="2.5" fill="url(#pl)" stroke="#1a1a1a" stroke-width="0.8"/>
<line x1="175.5" y1="374.5" x2="175.5" y2="483.8" stroke="#111" stroke-width="1.1"/>
<line x1="175" y1="483.3" x2="353.1" y2="483.3" stroke="#111" stroke-width="1.1"/>
<line x1="173.7" y1="374.5" x2="175.5" y2="374.5" stroke="#111" stroke-width="1"/>
<text x="173.5" y="376.95" font-size="6.8" text-anchor="end" font-weight="bold" fill="#111" stroke="#111" stroke-width="0.28">200</text>
<line x1="173.7" y1="401.75" x2="175.5" y2="401.75" stroke="#111" stroke-width="1"/>
<text x="173.5" y="404.2" font-size="6.8" text-anchor="end" font-weight="bold" fill="#111" stroke="#111" stroke-width="0.28">150</text>
<line x1="173.7" y1="428.75" x2="175.5" y2="428.75" stroke="#111" stroke-width="1"/>
<text x="173.5" y="431.2" font-size="6.8" text-anchor="end" font-weight="bold" fill="#111" stroke="#111" stroke-width="0.28">100</text>
<line x1="173.7" y1="456.25" x2="175.5" y2="456.25" stroke="#111" stroke-width="1"/>
<text x="173.5" y="458.7" font-size="6.8" text-anchor="end" font-weight="bold" fill="#111" stroke="#111" stroke-width="0.28">50</text>
<line x1="173.7" y1="483.3" x2="175.5" y2="483.3" stroke="#111" stroke-width="1"/>
<text x="173.5" y="485.75" font-size="6.8" text-anchor="end" font-weight="bold" fill="#111" stroke="#111" stroke-width="0.28">0</text>
<line x1="205.1" y1="483.3" x2="205.1" y2="485.1" stroke="#111" stroke-width="1"/>
<line x1="264.7" y1="483.3" x2="264.7" y2="485.1" stroke="#111" stroke-width="1"/>
<line x1="324.3" y1="483.3" x2="324.3" y2="485.1" stroke="#111" stroke-width="1"/>
<line x1="181.8" y1="377.1" x2="227.2" y2="377.1" stroke="#3a3a3a" stroke-width="1.1"/>
<line x1="181.8" y1="375.5" x2="181.8" y2="378.7" stroke="#3a3a3a" stroke-width="1"/>
<line x1="227.2" y1="375.5" x2="227.2" y2="378.7" stroke="#3a3a3a" stroke-width="1"/>
<circle cx="201.5" cy="373.5" r="1.25" fill="#111"/>
<circle cx="204.5" cy="373.5" r="1.25" fill="#111"/>
<circle cx="207.5" cy="373.5" r="1.25" fill="#111"/>
<line x1="184.5" y1="453.8" x2="215.8" y2="453.8" stroke="#3a3a3a" stroke-width="1.1"/>
<line x1="184.5" y1="452.2" x2="184.5" y2="455.4" stroke="#3a3a3a" stroke-width="1"/>
<line x1="215.8" y1="452.2" x2="215.8" y2="455.4" stroke="#3a3a3a" stroke-width="1"/>
<circle cx="200.15" cy="450.2" r="1.25" fill="#111"/>
<line x1="184.5" y1="462.7" x2="205.3" y2="462.7" stroke="#3a3a3a" stroke-width="1.1"/>
<line x1="184.5" y1="461.1" x2="184.5" y2="464.3" stroke="#3a3a3a" stroke-width="1"/>
<line x1="205.3" y1="461.1" x2="205.3" y2="464.3" stroke="#3a3a3a" stroke-width="1"/>
<circle cx="193.4" cy="459.1" r="1.25" fill="#111"/>
<circle cx="196.4" cy="459.1" r="1.25" fill="#111"/>
<line x1="184.5" y1="470.6" x2="194.2" y2="470.6" stroke="#3a3a3a" stroke-width="1.1"/>
<line x1="184.5" y1="469" x2="184.5" y2="472.2" stroke="#3a3a3a" stroke-width="1"/>
<line x1="194.2" y1="469" x2="194.2" y2="472.2" stroke="#3a3a3a" stroke-width="1"/>
<text x="189.35" y="469.3" font-size="5.4" text-anchor="middle" font-weight="bold" fill="#333" stroke="#333" stroke-width="0.28">ns</text>
<line x1="245.5" y1="407.5" x2="285" y2="407.5" stroke="#3a3a3a" stroke-width="1.1"/>
<line x1="245.5" y1="405.9" x2="245.5" y2="409.1" stroke="#3a3a3a" stroke-width="1"/>
<line x1="285" y1="405.9" x2="285" y2="409.1" stroke="#3a3a3a" stroke-width="1"/>
<circle cx="265.25" cy="403.9" r="1.25" fill="#111"/>
<line x1="243.6" y1="453.9" x2="274.2" y2="453.9" stroke="#3a3a3a" stroke-width="1.1"/>
<line x1="243.6" y1="452.3" x2="243.6" y2="455.5" stroke="#3a3a3a" stroke-width="1"/>
<line x1="274.2" y1="452.3" x2="274.2" y2="455.5" stroke="#3a3a3a" stroke-width="1"/>
<text x="258.9" y="452.6" font-size="5.4" text-anchor="middle" font-weight="bold" fill="#333" stroke="#333" stroke-width="0.28">ns</text>
<line x1="243.6" y1="462.8" x2="264.2" y2="462.8" stroke="#3a3a3a" stroke-width="1.1"/>
<line x1="243.6" y1="461.2" x2="243.6" y2="464.4" stroke="#3a3a3a" stroke-width="1"/>
<line x1="264.2" y1="461.2" x2="264.2" y2="464.4" stroke="#3a3a3a" stroke-width="1"/>
<circle cx="253.9" cy="459.2" r="1.25" fill="#111"/>
<line x1="243.6" y1="470.3" x2="252.8" y2="470.3" stroke="#3a3a3a" stroke-width="1.1"/>
<line x1="243.6" y1="468.7" x2="243.6" y2="471.9" stroke="#3a3a3a" stroke-width="1"/>
<line x1="252.8" y1="468.7" x2="252.8" y2="471.9" stroke="#3a3a3a" stroke-width="1"/>
<text x="248.2" y="469" font-size="5.4" text-anchor="middle" font-weight="bold" fill="#333" stroke="#333" stroke-width="0.28">ns</text>
<line x1="302.5" y1="444.5" x2="345.8" y2="444.5" stroke="#3a3a3a" stroke-width="1.1"/>
<line x1="302.5" y1="442.9" x2="302.5" y2="446.1" stroke="#3a3a3a" stroke-width="1"/>
<line x1="345.8" y1="442.9" x2="345.8" y2="446.1" stroke="#3a3a3a" stroke-width="1"/>
<circle cx="322.65" cy="440.9" r="1.25" fill="#111"/>
<circle cx="325.65" cy="440.9" r="1.25" fill="#111"/>
<line x1="302.5" y1="454" x2="334.8" y2="454" stroke="#3a3a3a" stroke-width="1.1"/>
<line x1="302.5" y1="452.4" x2="302.5" y2="455.6" stroke="#3a3a3a" stroke-width="1"/>
<line x1="334.8" y1="452.4" x2="334.8" y2="455.6" stroke="#3a3a3a" stroke-width="1"/>
<text x="318.65" y="452.7" font-size="5.4" text-anchor="middle" font-weight="bold" fill="#333" stroke="#333" stroke-width="0.28">ns</text>
<line x1="302.5" y1="462.5" x2="323.3" y2="462.5" stroke="#3a3a3a" stroke-width="1.1"/>
<line x1="302.5" y1="460.9" x2="302.5" y2="464.1" stroke="#3a3a3a" stroke-width="1"/>
<line x1="323.3" y1="460.9" x2="323.3" y2="464.1" stroke="#3a3a3a" stroke-width="1"/>
<text x="312.9" y="461.2" font-size="5.4" text-anchor="middle" font-weight="bold" fill="#333" stroke="#333" stroke-width="0.28">ns</text>
<line x1="302.5" y1="470.2" x2="312.5" y2="470.2" stroke="#3a3a3a" stroke-width="1.1"/>
<line x1="302.5" y1="468.6" x2="302.5" y2="471.8" stroke="#3a3a3a" stroke-width="1"/>
<line x1="312.5" y1="468.6" x2="312.5" y2="471.8" stroke="#3a3a3a" stroke-width="1"/>
<text x="307.5" y="468.9" font-size="5.4" text-anchor="middle" font-weight="bold" fill="#333" stroke="#333" stroke-width="0.28">ns</text>
<text x="205.1" y="491" font-size="6.1" text-anchor="middle" font-weight="bold" fill="#111" stroke="#111" stroke-width="0.28">6h</text>
<text x="264.7" y="491" font-size="6.1" text-anchor="middle" font-weight="bold" fill="#111" stroke="#111" stroke-width="0.28">12h</text>
<text x="324.3" y="491" font-size="6.1" text-anchor="middle" font-weight="bold" fill="#111" stroke="#111" stroke-width="0.28">24h</text>
<line x1="173.4" y1="500" x2="354.6" y2="500" stroke="#111" stroke-width="1.4"/>
<text x="262.3" y="510.2" font-size="7.45" text-anchor="middle" font-weight="bold" fill="#111" stroke="#111" stroke-width="0.28">WT BMDM</text>
<text x="157.6" y="426.8" font-size="7.4" text-anchor="middle" font-weight="bold" fill="#111" transform="rotate(-90 157.6 426.8)" stroke="#111" stroke-width="0.28">hamp/36B4 mRNA expression</text>
<rect x="325.4" y="398.35" width="5.3" height="5.3" fill="#000"/>
<text x="333.1" y="402.91" font-size="5.3" text-anchor="start" font-weight="bold" fill="#111" stroke="#111" stroke-width="0.28">untreated</text>
<rect x="325.85" y="405.8" width="4.4" height="4.4" fill="#8e8e8e" stroke="#111" stroke-width="0.9"/>
<text x="333.1" y="409.91" font-size="5.3" text-anchor="start" font-weight="bold" fill="#111" stroke="#111" stroke-width="0.28">Fsl1</text>
<rect x="325.85" y="412.6" width="4.4" height="4.4" fill="#fff" stroke="#111" stroke-width="0.9"/>
<text x="333.1" y="416.71" font-size="5.3" text-anchor="start" font-weight="bold" fill="#111" stroke="#111" stroke-width="0.28">Pam3CSK4</text>
<rect x="325.85" y="419.1" width="4.4" height="4.4" fill="url(#pd)" stroke="#111" stroke-width="0.9"/>
<text x="333.1" y="423.21" font-size="5.3" text-anchor="start" font-weight="bold" fill="#111" stroke="#111" stroke-width="0.28">PamOct2c4VPGKG</text>
<rect x="325.85" y="425.4" width="4.4" height="4.4" fill="url(#pl)" stroke="#111" stroke-width="0.9"/>
<text x="333.1" y="429.51" font-size="5.3" text-anchor="start" font-weight="bold" fill="#111" stroke="#111" stroke-width="0.28">Lps</text>
<text x="0.2" y="532" font-size="13.2" text-anchor="start" font-weight="bold" fill="#111" stroke="#111" stroke-width="0.28">F</text>
<rect x="39.2" y="657" width="7.7" height="0.7" fill="#000"/>
<rect x="50.3" y="657.4" width="6.9" height="0.3" fill="#8e8e8e" stroke="#333" stroke-width="0.8"/>
<line x1="64.45" y1="654.5" x2="64.45" y2="655.2" stroke="#222" stroke-width="1"/>
<line x1="62.85" y1="654.5" x2="66.05" y2="654.5" stroke="#222" stroke-width="1"/>
<rect x="61" y="655.6" width="6.9" height="2.1" fill="#fff" stroke="#444" stroke-width="0.8"/>
<rect x="71.7" y="657.4" width="6.9" height="0.3" fill="url(#pd)" stroke="#111" stroke-width="0.8"/>
<line x1="85.85" y1="561.5" x2="85.85" y2="582.1" stroke="#222" stroke-width="1"/>
<line x1="84.25" y1="561.5" x2="87.45" y2="561.5" stroke="#222" stroke-width="1"/>
<rect x="82.4" y="582.5" width="6.9" height="75.2" fill="url(#pl)" stroke="#1a1a1a" stroke-width="0.8"/>
<rect x="100.8" y="657" width="7.7" height="0.7" fill="#000"/>
<rect x="111.9" y="657.4" width="6.9" height="0.3" fill="#8e8e8e" stroke="#333" stroke-width="0.8"/>
<rect x="122.6" y="656.9" width="6.9" height="0.8" fill="#fff" stroke="#444" stroke-width="0.8"/>
<rect x="133.3" y="657" width="6.9" height="0.7" fill="url(#pd)" stroke="#111" stroke-width="0.8"/>
<line x1="147.45" y1="611.7" x2="147.45" y2="623.1" stroke="#222" stroke-width="1"/>
<line x1="145.85" y1="611.7" x2="149.05" y2="611.7" stroke="#222" stroke-width="1"/>
<rect x="144" y="623.5" width="6.9" height="34.2" fill="url(#pl)" stroke="#1a1a1a" stroke-width="0.8"/>
<rect x="162.4" y="657" width="7.7" height="0.7" fill="#000"/>
<rect x="173.5" y="657.4" width="6.9" height="0.3" fill="#8e8e8e" stroke="#333" stroke-width="0.8"/>
<rect x="184.2" y="657.4" width="6.9" height="0.3" fill="#fff" stroke="#444" stroke-width="0.8"/>
<rect x="194.9" y="657.4" width="6.9" height="0.3" fill="url(#pd)" stroke="#111" stroke-width="0.8"/>
<line x1="209.05" y1="653.8" x2="209.05" y2="654.5" stroke="#222" stroke-width="1"/>
<line x1="207.45" y1="653.8" x2="210.65" y2="653.8" stroke="#222" stroke-width="1"/>
<rect x="205.6" y="654.9" width="6.9" height="2.8" fill="url(#pl)" stroke="#1a1a1a" stroke-width="0.8"/>
<line x1="32.5" y1="544.5" x2="32.5" y2="658.2" stroke="#111" stroke-width="1.1"/>
<line x1="32" y1="657.7" x2="218.5" y2="657.7" stroke="#111" stroke-width="1.1"/>
<line x1="30.7" y1="544.5" x2="32.5" y2="544.5" stroke="#111" stroke-width="1"/>
<text x="30.5" y="546.95" font-size="6.8" text-anchor="end" font-weight="bold" fill="#111" stroke="#111" stroke-width="0.28">250</text>
<line x1="30.7" y1="567.5" x2="32.5" y2="567.5" stroke="#111" stroke-width="1"/>
<text x="30.5" y="569.95" font-size="6.8" text-anchor="end" font-weight="bold" fill="#111" stroke="#111" stroke-width="0.28">200</text>
<line x1="30.7" y1="590" x2="32.5" y2="590" stroke="#111" stroke-width="1"/>
<text x="30.5" y="592.45" font-size="6.8" text-anchor="end" font-weight="bold" fill="#111" stroke="#111" stroke-width="0.28">150</text>
<line x1="30.7" y1="612.5" x2="32.5" y2="612.5" stroke="#111" stroke-width="1"/>
<text x="30.5" y="614.95" font-size="6.8" text-anchor="end" font-weight="bold" fill="#111" stroke="#111" stroke-width="0.28">100</text>
<line x1="30.7" y1="635.5" x2="32.5" y2="635.5" stroke="#111" stroke-width="1"/>
<text x="30.5" y="637.95" font-size="6.8" text-anchor="end" font-weight="bold" fill="#111" stroke="#111" stroke-width="0.28">50</text>
<line x1="30.7" y1="657.7" x2="32.5" y2="657.7" stroke="#111" stroke-width="1"/>
<text x="30.5" y="660.15" font-size="6.8" text-anchor="end" font-weight="bold" fill="#111" stroke="#111" stroke-width="0.28">0</text>
<line x1="63.85" y1="657.7" x2="63.85" y2="659.5" stroke="#111" stroke-width="1"/>
<line x1="125.45" y1="657.7" x2="125.45" y2="659.5" stroke="#111" stroke-width="1"/>
<line x1="187.05" y1="657.7" x2="187.05" y2="659.5" stroke="#111" stroke-width="1"/>
<line x1="43" y1="557.5" x2="85.4" y2="557.5" stroke="#3a3a3a" stroke-width="1.1"/>
<line x1="43" y1="555.9" x2="43" y2="559.1" stroke="#3a3a3a" stroke-width="1"/>
<line x1="85.4" y1="555.9" x2="85.4" y2="559.1" stroke="#3a3a3a" stroke-width="1"/>
<circle cx="64.2" cy="553.9" r="1.25" fill="#111"/>
<line x1="43" y1="631.5" x2="75.3" y2="631.5" stroke="#3a3a3a" stroke-width="1.1"/>
<line x1="43" y1="629.9" x2="43" y2="633.1" stroke="#3a3a3a" stroke-width="1"/>
<line x1="75.3" y1="629.9" x2="75.3" y2="633.1" stroke="#3a3a3a" stroke-width="1"/>
<text x="59.15" y="630.2" font-size="5.4" text-anchor="middle" font-weight="bold" fill="#333" stroke="#333" stroke-width="0.28">ns</text>
<line x1="43" y1="639.7" x2="65.3" y2="639.7" stroke="#3a3a3a" stroke-width="1.1"/>
<line x1="43" y1="638.1" x2="43" y2="641.3" stroke="#3a3a3a" stroke-width="1"/>
<line x1="65.3" y1="638.1" x2="65.3" y2="641.3" stroke="#3a3a3a" stroke-width="1"/>
<text x="54.15" y="638.4" font-size="5.4" text-anchor="middle" font-weight="bold" fill="#333" stroke="#333" stroke-width="0.28">ns</text>
<line x1="43" y1="648.2" x2="52.5" y2="648.2" stroke="#3a3a3a" stroke-width="1.1"/>
<line x1="43" y1="646.6" x2="43" y2="649.8" stroke="#3a3a3a" stroke-width="1"/>
<line x1="52.5" y1="646.6" x2="52.5" y2="649.8" stroke="#3a3a3a" stroke-width="1"/>
<text x="47.75" y="646.9" font-size="5.4" text-anchor="middle" font-weight="bold" fill="#333" stroke="#333" stroke-width="0.28">ns</text>
<line x1="104.6" y1="600" x2="146.8" y2="600" stroke="#3a3a3a" stroke-width="1.1"/>
<line x1="104.6" y1="598.4" x2="104.6" y2="601.6" stroke="#3a3a3a" stroke-width="1"/>
<line x1="146.8" y1="598.4" x2="146.8" y2="601.6" stroke="#3a3a3a" stroke-width="1"/>
<circle cx="125.7" cy="596.4" r="1.25" fill="#111"/>
<line x1="104.6" y1="630.8" x2="136.9" y2="630.8" stroke="#3a3a3a" stroke-width="1.1"/>
<line x1="104.6" y1="629.2" x2="104.6" y2="632.4" stroke="#3a3a3a" stroke-width="1"/>
<line x1="136.9" y1="629.2" x2="136.9" y2="632.4" stroke="#3a3a3a" stroke-width="1"/>
<text x="120.75" y="629.5" font-size="5.4" text-anchor="middle" font-weight="bold" fill="#333" stroke="#333" stroke-width="0.28">ns</text>
<line x1="104.6" y1="640" x2="125.2" y2="640" stroke="#3a3a3a" stroke-width="1.1"/>
<line x1="104.6" y1="638.4" x2="104.6" y2="641.6" stroke="#3a3a3a" stroke-width="1"/>
<line x1="125.2" y1="638.4" x2="125.2" y2="641.6" stroke="#3a3a3a" stroke-width="1"/>
<text x="114.9" y="638.7" font-size="5.4" text-anchor="middle" font-weight="bold" fill="#333" stroke="#333" stroke-width="0.28">ns</text>
<line x1="104.6" y1="647.7" x2="114.5" y2="647.7" stroke="#3a3a3a" stroke-width="1.1"/>
<line x1="104.6" y1="646.1" x2="104.6" y2="649.3" stroke="#3a3a3a" stroke-width="1"/>
<line x1="114.5" y1="646.1" x2="114.5" y2="649.3" stroke="#3a3a3a" stroke-width="1"/>
<text x="109.55" y="646.4" font-size="5.4" text-anchor="middle" font-weight="bold" fill="#333" stroke="#333" stroke-width="0.28">ns</text>
<line x1="164.6" y1="620.9" x2="208.3" y2="620.9" stroke="#3a3a3a" stroke-width="1.1"/>
<line x1="164.6" y1="619.3" x2="164.6" y2="622.5" stroke="#3a3a3a" stroke-width="1"/>
<line x1="208.3" y1="619.3" x2="208.3" y2="622.5" stroke="#3a3a3a" stroke-width="1"/>
<circle cx="184.95" cy="617.3" r="1.25" fill="#111"/>
<circle cx="187.95" cy="617.3" r="1.25" fill="#111"/>
<line x1="164.6" y1="630.8" x2="197.8" y2="630.8" stroke="#3a3a3a" stroke-width="1.1"/>
<line x1="164.6" y1="629.2" x2="164.6" y2="632.4" stroke="#3a3a3a" stroke-width="1"/>
<line x1="197.8" y1="629.2" x2="197.8" y2="632.4" stroke="#3a3a3a" stroke-width="1"/>
<text x="181.2" y="629.5" font-size="5.4" text-anchor="middle" font-weight="bold" fill="#333" stroke="#333" stroke-width="0.28">ns</text>
<line x1="164.6" y1="640" x2="186.8" y2="640" stroke="#3a3a3a" stroke-width="1.1"/>
<line x1="164.6" y1="638.4" x2="164.6" y2="641.6" stroke="#3a3a3a" stroke-width="1"/>
<line x1="186.8" y1="638.4" x2="186.8" y2="641.6" stroke="#3a3a3a" stroke-width="1"/>
<text x="175.7" y="638.7" font-size="5.4" text-anchor="middle" font-weight="bold" fill="#333" stroke="#333" stroke-width="0.28">ns</text>
<line x1="164.6" y1="647.7" x2="175.4" y2="647.7" stroke="#3a3a3a" stroke-width="1.1"/>
<line x1="164.6" y1="646.1" x2="164.6" y2="649.3" stroke="#3a3a3a" stroke-width="1"/>
<line x1="175.4" y1="646.1" x2="175.4" y2="649.3" stroke="#3a3a3a" stroke-width="1"/>
<text x="170" y="646.4" font-size="5.4" text-anchor="middle" font-weight="bold" fill="#333" stroke="#333" stroke-width="0.28">ns</text>
<text x="63.15" y="665.6" font-size="6.1" text-anchor="middle" font-weight="bold" fill="#111" stroke="#111" stroke-width="0.28">6h</text>
<text x="124.75" y="665.6" font-size="6.1" text-anchor="middle" font-weight="bold" fill="#111" stroke="#111" stroke-width="0.28">12h</text>
<text x="186.35" y="665.6" font-size="6.1" text-anchor="middle" font-weight="bold" fill="#111" stroke="#111" stroke-width="0.28">24h</text>
<line x1="32.5" y1="672.6" x2="217.9" y2="672.6" stroke="#111" stroke-width="1.4"/>
<text x="122" y="682.5" font-size="7.1" text-anchor="middle" font-weight="bold" fill="#111" stroke="#111" stroke-width="0.28">TLR6 KO BMDM</text>
<text x="14.7" y="599.4" font-size="7.7" text-anchor="middle" font-weight="bold" fill="#111" transform="rotate(-90 14.7 599.4)" stroke="#111" stroke-width="0.28">hamp/36B4 mRNA expression</text>
<rect x="179.4" y="570.25" width="5.3" height="5.3" fill="#000"/>
<text x="186.8" y="574.81" font-size="5.3" text-anchor="start" font-weight="bold" fill="#111" stroke="#111" stroke-width="0.28">untreated</text>
<rect x="179.85" y="577.3" width="4.4" height="4.4" fill="#8e8e8e" stroke="#111" stroke-width="0.9"/>
<text x="186.8" y="581.41" font-size="5.3" text-anchor="start" font-weight="bold" fill="#111" stroke="#111" stroke-width="0.28">Fsl1</text>
<rect x="179.85" y="584.1" width="4.4" height="4.4" fill="#fff" stroke="#111" stroke-width="0.9"/>
<text x="186.8" y="588.21" font-size="5.3" text-anchor="start" font-weight="bold" fill="#111" stroke="#111" stroke-width="0.28">Pam3CSK4</text>
<rect x="179.85" y="591" width="4.4" height="4.4" fill="url(#pd)" stroke="#111" stroke-width="0.9"/>
<text x="186.8" y="595.11" font-size="5.3" text-anchor="start" font-weight="bold" fill="#111" stroke="#111" stroke-width="0.28">PamOct2c4VPGKG</text>
<rect x="179.85" y="597.8" width="4.4" height="4.4" fill="url(#pl)" stroke="#111" stroke-width="0.9"/>
<text x="186.8" y="601.91" font-size="5.3" text-anchor="start" font-weight="bold" fill="#111" stroke="#111" stroke-width="0.28">Lps</text>
<text x="281.1" y="531.7" font-size="13.2" text-anchor="start" font-weight="bold" fill="#111" stroke="#111" stroke-width="0.28">G</text>
<rect x="313.4" y="655.6" width="7.7" height="0.6" fill="#000"/>
<rect x="324.2" y="656" width="6.9" height="0.2" fill="#8e8e8e" stroke="#333" stroke-width="0.8"/>
<rect x="334.6" y="656" width="6.9" height="0.2" fill="#fff" stroke="#444" stroke-width="0.8"/>
<rect x="345" y="656" width="6.9" height="0.2" fill="url(#pd)" stroke="#111" stroke-width="0.8"/>
<line x1="358.85" y1="573.8" x2="358.85" y2="593.8" stroke="#222" stroke-width="1"/>
<line x1="357.25" y1="573.8" x2="360.45" y2="573.8" stroke="#222" stroke-width="1"/>
<rect x="355.4" y="594.2" width="6.9" height="62" fill="url(#pl)" stroke="#1a1a1a" stroke-width="0.8"/>
<rect x="373.1" y="655.6" width="7.7" height="0.6" fill="#000"/>
<rect x="383.9" y="655.4" width="6.9" height="0.8" fill="#8e8e8e" stroke="#333" stroke-width="0.8"/>
<rect x="394.3" y="656" width="6.9" height="0.2" fill="#fff" stroke="#444" stroke-width="0.8"/>
<rect x="404.7" y="656" width="6.9" height="0.2" fill="url(#pd)" stroke="#111" stroke-width="0.8"/>
<line x1="418.55" y1="574.8" x2="418.55" y2="606.2" stroke="#222" stroke-width="1"/>
<line x1="416.95" y1="574.8" x2="420.15" y2="574.8" stroke="#222" stroke-width="1"/>
<rect x="415.1" y="606.6" width="6.9" height="49.6" fill="url(#pl)" stroke="#1a1a1a" stroke-width="0.8"/>
<rect x="432.8" y="655.6" width="7.7" height="0.6" fill="#000"/>
<rect x="443.6" y="656" width="6.9" height="0.2" fill="#8e8e8e" stroke="#333" stroke-width="0.8"/>
<rect x="454" y="655.4" width="6.9" height="0.8" fill="#fff" stroke="#444" stroke-width="0.8"/>
<rect x="464.4" y="656" width="6.9" height="0.2" fill="url(#pd)" stroke="#111" stroke-width="0.8"/>
<line x1="478.25" y1="634.5" x2="478.25" y2="640.6" stroke="#222" stroke-width="1"/>
<line x1="476.65" y1="634.5" x2="479.85" y2="634.5" stroke="#222" stroke-width="1"/>
<rect x="474.8" y="641" width="6.9" height="15.2" fill="url(#pl)" stroke="#1a1a1a" stroke-width="0.8"/>
<rect x="354.5" y="626.3" width="8.7" height="3.4" fill="#fff"/>
<rect x="414.2" y="626.3" width="8.7" height="3.4" fill="#fff"/>
<line x1="307.7" y1="546.9" x2="307.7" y2="625.9" stroke="#111" stroke-width="1.1"/>
<line x1="307.7" y1="627.6" x2="307.7" y2="656.7" stroke="#111" stroke-width="1.1"/>
<line x1="307.2" y1="656.2" x2="487.7" y2="656.2" stroke="#111" stroke-width="1.1"/>
<line x1="305.9" y1="546.9" x2="307.7" y2="546.9" stroke="#111" stroke-width="1"/>
<text x="305.6" y="549.2" font-size="6.5" text-anchor="end" font-weight="bold" fill="#111" stroke="#111" stroke-width="0.28">1000</text>
<line x1="305.9" y1="562.8" x2="307.7" y2="562.8" stroke="#111" stroke-width="1"/>
<text x="305.6" y="565.1" font-size="6.5" text-anchor="end" font-weight="bold" fill="#111" stroke="#111" stroke-width="0.28">900</text>
<line x1="305.9" y1="578.7" x2="307.7" y2="578.7" stroke="#111" stroke-width="1"/>
<text x="305.6" y="581" font-size="6.5" text-anchor="end" font-weight="bold" fill="#111" stroke="#111" stroke-width="0.28">800</text>
<line x1="305.9" y1="594.4" x2="307.7" y2="594.4" stroke="#111" stroke-width="1"/>
<text x="305.6" y="596.7" font-size="6.5" text-anchor="end" font-weight="bold" fill="#111" stroke="#111" stroke-width="0.28">700</text>
<line x1="305.9" y1="610.3" x2="307.7" y2="610.3" stroke="#111" stroke-width="1"/>
<text x="305.6" y="612.6" font-size="6.5" text-anchor="end" font-weight="bold" fill="#111" stroke="#111" stroke-width="0.28">600</text>
<line x1="305.9" y1="625.9" x2="307.7" y2="625.9" stroke="#111" stroke-width="1"/>
<line x1="305.9" y1="627.6" x2="307.7" y2="627.6" stroke="#111" stroke-width="1"/>
<line x1="305.9" y1="629.2" x2="307.7" y2="629.2" stroke="#111" stroke-width="1"/>
<text x="305.6" y="631.5" font-size="6.5" text-anchor="end" font-weight="bold" fill="#111" stroke="#111" stroke-width="0.28">50</text>
<line x1="305.9" y1="643.7" x2="307.7" y2="643.7" stroke="#111" stroke-width="1"/>
<text x="305.6" y="646" font-size="6.5" text-anchor="end" font-weight="bold" fill="#111" stroke="#111" stroke-width="0.28">25</text>
<line x1="337.55" y1="656.2" x2="337.55" y2="658" stroke="#111" stroke-width="1"/>
<text x="337.25" y="664.3" font-size="6.1" text-anchor="middle" font-weight="bold" fill="#111" stroke="#111" stroke-width="0.28">6h</text>
<line x1="397.25" y1="656.2" x2="397.25" y2="658" stroke="#111" stroke-width="1"/>
<text x="396.95" y="664.3" font-size="6.1" text-anchor="middle" font-weight="bold" fill="#111" stroke="#111" stroke-width="0.28">12h</text>
<line x1="456.95" y1="656.2" x2="456.95" y2="658" stroke="#111" stroke-width="1"/>
<text x="456.65" y="664.3" font-size="6.1" text-anchor="middle" font-weight="bold" fill="#111" stroke="#111" stroke-width="0.28">24h</text>
<line x1="308" y1="670.2" x2="488.6" y2="670.2" stroke="#111" stroke-width="1.4"/>
<text x="398.3" y="680.9" font-size="7.1" text-anchor="middle" font-weight="bold" fill="#111" stroke="#111" stroke-width="0.28">TLR2 KO BMDM</text>
<text x="290.4" y="599.5" font-size="7.5" text-anchor="middle" font-weight="bold" fill="#111" transform="rotate(-90 290.4 599.5)" stroke="#111" stroke-width="0.28">hamp/36B4 mRNA expression</text>
<rect x="456.9" y="571.15" width="5.3" height="5.3" fill="#000"/>
<text x="463.7" y="575.71" font-size="5.3" text-anchor="start" font-weight="bold" fill="#111" stroke="#111" stroke-width="0.28">untreated</text>
<rect x="457.35" y="578.4" width="4.4" height="4.4" fill="#8e8e8e" stroke="#111" stroke-width="0.9"/>
<text x="463.7" y="582.51" font-size="5.3" text-anchor="start" font-weight="bold" fill="#111" stroke="#111" stroke-width="0.28">Fsl</text>
<rect x="457.35" y="584.9" width="4.4" height="4.4" fill="#fff" stroke="#111" stroke-width="0.9"/>
<text x="463.7" y="589.01" font-size="5.3" text-anchor="start" font-weight="bold" fill="#111" stroke="#111" stroke-width="0.28">Pam3CSK4</text>
<rect x="457.35" y="591.6" width="4.4" height="4.4" fill="url(#pd)" stroke="#111" stroke-width="0.9"/>
<text x="463.7" y="595.71" font-size="5.3" text-anchor="start" font-weight="bold" fill="#111" stroke="#111" stroke-width="0.28">PamOct2c4VPGKG</text>
<rect x="457.35" y="598.4" width="4.4" height="4.4" fill="url(#pl)" stroke="#111" stroke-width="0.9"/>
<text x="463.7" y="602.51" font-size="5.3" text-anchor="start" font-weight="bold" fill="#111" stroke="#111" stroke-width="0.28">Lps</text>
<text x="280.8" y="11.1" font-size="13.2" text-anchor="start" font-weight="bold" fill="#111" stroke="#111" stroke-width="0.28">B</text>
<rect x="321.8" y="30.8" width="110.5" height="11" fill="#f4f4f4" stroke="#0a0a0a" stroke-width="1.2"/>
<rect x="323.7" y="31.5" width="10.2" height="9.9" fill="url(#gd)"/>
<ellipse cx="328.8" cy="32.3" rx="4.1" ry="1.1" fill="#fff" opacity="0.35"/>
<ellipse cx="328.8" cy="40.7" rx="4.1" ry="1.0" fill="#fff" opacity="0.35"/>
<rect x="335.5" y="31.5" width="10.6" height="9.9" fill="url(#gd)"/>
<ellipse cx="340.8" cy="32.3" rx="4.3" ry="1.1" fill="#fff" opacity="0.35"/>
<ellipse cx="340.8" cy="40.7" rx="4.3" ry="1.0" fill="#fff" opacity="0.35"/>
<rect x="347.7" y="31.5" width="10.6" height="9.9" fill="url(#gd)"/>
<ellipse cx="353" cy="32.3" rx="4.3" ry="1.1" fill="#fff" opacity="0.35"/>
<ellipse cx="353" cy="40.7" rx="4.3" ry="1.0" fill="#fff" opacity="0.35"/>
<rect x="359.9" y="31.5" width="10.6" height="9.9" fill="url(#gl)"/>
<ellipse cx="365.2" cy="32.3" rx="4.3" ry="1.1" fill="#fff" opacity="0.35"/>
<ellipse cx="365.2" cy="40.7" rx="4.3" ry="1.0" fill="#fff" opacity="0.35"/>
<rect x="372.1" y="31.5" width="10.5" height="9.9" fill="url(#gl)"/>
<ellipse cx="377.35" cy="32.3" rx="4.25" ry="1.1" fill="#fff" opacity="0.35"/>
<ellipse cx="377.35" cy="40.7" rx="4.25" ry="1.0" fill="#fff" opacity="0.35"/>
<rect x="384.2" y="31.5" width="10.6" height="9.9" fill="url(#gl)"/>
<ellipse cx="389.5" cy="32.3" rx="4.3" ry="1.1" fill="#fff" opacity="0.35"/>
<ellipse cx="389.5" cy="40.7" rx="4.3" ry="1.0" fill="#fff" opacity="0.35"/>
<rect x="396.4" y="31.5" width="10.8" height="9.9" fill="url(#gd)"/>
<ellipse cx="401.8" cy="32.3" rx="4.4" ry="1.1" fill="#fff" opacity="0.35"/>
<ellipse cx="401.8" cy="40.7" rx="4.4" ry="1.0" fill="#fff" opacity="0.35"/>
<rect x="408.8" y="31.5" width="10.9" height="9.9" fill="url(#gm)"/>
<ellipse cx="414.25" cy="32.3" rx="4.45" ry="1.1" fill="#fff" opacity="0.35"/>
<ellipse cx="414.25" cy="40.7" rx="4.45" ry="1.0" fill="#fff" opacity="0.35"/>
<rect x="421.3" y="31.5" width="10.1" height="9.9" fill="url(#gn)"/>
<ellipse cx="426.35" cy="32.3" rx="4.05" ry="1.1" fill="#fff" opacity="0.35"/>
<ellipse cx="426.35" cy="40.7" rx="4.05" ry="1.0" fill="#fff" opacity="0.35"/>
<rect x="321.8" y="46.8" width="110.5" height="11.4" fill="#fafafa" stroke="#0a0a0a" stroke-width="1.2"/>
<rect x="321.6" y="50.5" width="12.5" height="3.6" rx="1.6" fill="#555"/>
<rect x="321.9" y="50.9" width="11.9" height="2.8" rx="1.3" fill="#0a0a0a"/>
<rect x="335.1" y="50.5" width="11.2" height="3.6" rx="1.6" fill="#555"/>
<rect x="335.4" y="50.9" width="10.6" height="2.8" rx="1.3" fill="#0a0a0a"/>
<rect x="347.3" y="50.5" width="11.2" height="3.6" rx="1.6" fill="#555"/>
<rect x="347.6" y="50.9" width="10.6" height="2.8" rx="1.3" fill="#0a0a0a"/>
<rect x="359.5" y="50.5" width="11.2" height="3.6" rx="1.6" fill="#555"/>
<rect x="359.8" y="50.9" width="10.6" height="2.8" rx="1.3" fill="#0a0a0a"/>
<rect x="371.7" y="50.5" width="11.1" height="3.6" rx="1.6" fill="#555"/>
<rect x="372" y="50.9" width="10.5" height="2.8" rx="1.3" fill="#0a0a0a"/>
<rect x="383.8" y="50.5" width="11.2" height="3.6" rx="1.6" fill="#555"/>
<rect x="384.1" y="50.9" width="10.6" height="2.8" rx="1.3" fill="#0a0a0a"/>
<rect x="396" y="50.5" width="11.4" height="3.6" rx="1.6" fill="#555"/>
<rect x="396.3" y="50.9" width="10.8" height="2.8" rx="1.3" fill="#0a0a0a"/>
<rect x="408.4" y="50.5" width="11.5" height="3.6" rx="1.6" fill="#555"/>
<rect x="408.7" y="50.9" width="10.9" height="2.8" rx="1.3" fill="#0a0a0a"/>
<rect x="420.9" y="50.5" width="10.7" height="3.6" rx="1.6" fill="#555"/>
<rect x="421.2" y="50.9" width="10.1" height="2.8" rx="1.3" fill="#0a0a0a"/>
<text x="312.2" y="34.2" font-size="5" text-anchor="end" font-weight="normal" fill="#222">70</text>
<text x="313.8" y="39.5" font-size="4.6" text-anchor="end" font-weight="normal" fill="#222">kDa</text>
<line x1="313.7" y1="33.2" x2="318.8" y2="33.2" stroke="#111" stroke-width="1"/>
<text x="312.2" y="50.3" font-size="5" text-anchor="end" font-weight="normal" fill="#222">43</text>
<text x="313.8" y="55.9" font-size="4.6" text-anchor="end" font-weight="normal" fill="#222">kDa</text>
<line x1="313.7" y1="49.2" x2="318.8" y2="49.2" stroke="#111" stroke-width="1"/>
<text x="436.6" y="39.3" font-size="7.7" text-anchor="start" font-weight="bold" fill="#111" stroke="#111" stroke-width="0.28">Fpn</text>
<text x="436.6" y="55.6" font-size="7.5" text-anchor="start" font-weight="bold" fill="#111" stroke="#111" stroke-width="0.28">Actin</text>
<text x="292.2" y="70.3" font-size="6.1" text-anchor="start" font-weight="bold" fill="#111" stroke="#111" stroke-width="0.28">Lps</text>
<text x="292.2" y="78.2" font-size="6.5" text-anchor="start" font-weight="bold" fill="#111" stroke="#111" stroke-width="0.28">Pam3CSK4</text>
<line x1="328.7" y1="68.2" x2="330.3" y2="68.2" stroke="#333" stroke-width="0.9"/>
<line x1="328.7" y1="76.4" x2="330.3" y2="76.4" stroke="#333" stroke-width="0.9"/>
<line x1="341.01" y1="68.2" x2="342.61" y2="68.2" stroke="#333" stroke-width="0.9"/>
<line x1="341.01" y1="76.4" x2="342.61" y2="76.4" stroke="#333" stroke-width="0.9"/>
<line x1="353.32" y1="68.2" x2="354.92" y2="68.2" stroke="#333" stroke-width="0.9"/>
<line x1="353.32" y1="76.4" x2="354.92" y2="76.4" stroke="#333" stroke-width="0.9"/>
<circle cx="366.43" cy="68.2" r="1.1" fill="#151515"/>
<line x1="365.63" y1="76.4" x2="367.23" y2="76.4" stroke="#333" stroke-width="0.9"/>
<circle cx="378.74" cy="68.2" r="1.1" fill="#151515"/>
<line x1="377.94" y1="76.4" x2="379.54" y2="76.4" stroke="#333" stroke-width="0.9"/>
<circle cx="391.05" cy="68.2" r="1.1" fill="#151515"/>
<line x1="390.25" y1="76.4" x2="391.85" y2="76.4" stroke="#333" stroke-width="0.9"/>
<line x1="402.56" y1="68.2" x2="404.16" y2="68.2" stroke="#333" stroke-width="0.9"/>
<circle cx="403.36" cy="76.4" r="1.1" fill="#151515"/>
<line x1="414.87" y1="68.2" x2="416.47" y2="68.2" stroke="#333" stroke-width="0.9"/>
<circle cx="415.67" cy="76.4" r="1.1" fill="#151515"/>
<line x1="427.18" y1="68.2" x2="428.78" y2="68.2" stroke="#333" stroke-width="0.9"/>
<circle cx="427.98" cy="76.4" r="1.1" fill="#151515"/>
<text x="326.5" y="103.9" font-size="8.65" text-anchor="start" font-weight="bold" fill="#111" stroke="#111" stroke-width="0.28">Fpn protein quantification</text>
<line x1="354.1" y1="123.1" x2="354.1" y2="124.9" stroke="#333" stroke-width="0.8"/>
<line x1="351.6" y1="123.1" x2="356.6" y2="123.1" stroke="#333" stroke-width="0.8"/>
<rect x="346" y="124.9" width="16.2" height="38.7" fill="#000"/>
<line x1="378.4" y1="140.4" x2="378.4" y2="142.7" stroke="#333" stroke-width="0.8"/>
<line x1="375.9" y1="140.4" x2="380.9" y2="140.4" stroke="#333" stroke-width="0.8"/>
<rect x="370.6" y="143" width="15.6" height="20.6" fill="#929292" stroke="#444" stroke-width="0.6"/>
<line x1="402.05" y1="134.2" x2="402.05" y2="136.9" stroke="#333" stroke-width="0.8"/>
<line x1="399.55" y1="134.2" x2="404.55" y2="134.2" stroke="#333" stroke-width="0.8"/>
<rect x="394.1" y="137.2" width="15.9" height="26.4" fill="#7a7a7a" stroke="#444" stroke-width="0.6"/>
<line x1="342.8" y1="114.7" x2="342.8" y2="164" stroke="#222" stroke-width="0.9"/>
<line x1="342.4" y1="163.6" x2="414.5" y2="163.6" stroke="#222" stroke-width="0.9"/>
<line x1="341.5" y1="114.7" x2="342.8" y2="114.7" stroke="#222" stroke-width="0.7"/>
<line x1="341.5" y1="127" x2="342.8" y2="127" stroke="#222" stroke-width="0.7"/>
<line x1="341.5" y1="139.3" x2="342.8" y2="139.3" stroke="#222" stroke-width="0.7"/>
<line x1="341.5" y1="151.5" x2="342.8" y2="151.5" stroke="#222" stroke-width="0.7"/>
<line x1="341.5" y1="163.6" x2="342.8" y2="163.6" stroke="#222" stroke-width="0.7"/>
<text x="341.2" y="115.9" font-size="3.4" text-anchor="end" font-weight="bold" fill="#555">2.0</text>
<text x="341.2" y="128.2" font-size="3.4" text-anchor="end" font-weight="bold" fill="#555">1.5</text>
<text x="341.2" y="140.5" font-size="3.4" text-anchor="end" font-weight="bold" fill="#555">1.0</text>
<text x="341.2" y="152.7" font-size="3.4" text-anchor="end" font-weight="bold" fill="#555">0.5</text>
<text x="341.2" y="164.8" font-size="3.4" text-anchor="end" font-weight="bold" fill="#555">0.0</text>
<text x="354.2" y="168.6" font-size="3.8" text-anchor="middle" font-weight="bold" fill="#222" stroke="#222" stroke-width="0.1">untreated</text>
<text x="378.4" y="168.6" font-size="3.8" text-anchor="middle" font-weight="bold" fill="#222" stroke="#222" stroke-width="0.1">LPS</text>
<text x="402" y="168.6" font-size="3.8" text-anchor="middle" font-weight="bold" fill="#222" stroke="#222" stroke-width="0.1">PAM3CSK4</text>
<text x="335" y="139.3" font-size="4.5" text-anchor="middle" font-weight="bold" fill="#222" transform="rotate(-90 335 139.3)" stroke="#222" stroke-width="0.1">Fpn/actin densitometry (AU)</text>
<line x1="353.6" y1="113.2" x2="402.6" y2="113.2" stroke="#444" stroke-width="0.8"/>
<line x1="353.6" y1="111.9" x2="353.6" y2="114.5" stroke="#444" stroke-width="0.8"/>
<line x1="402.6" y1="111.9" x2="402.6" y2="114.5" stroke="#444" stroke-width="0.8"/>
<circle cx="378.1" cy="110" r="1" fill="#111"/>
<line x1="353.6" y1="119.6" x2="381.8" y2="119.6" stroke="#444" stroke-width="0.8"/>
<line x1="353.6" y1="118.3" x2="353.6" y2="120.9" stroke="#444" stroke-width="0.8"/>
<line x1="381.8" y1="118.3" x2="381.8" y2="120.9" stroke="#444" stroke-width="0.8"/>
<circle cx="366.2" cy="116.4" r="1" fill="#111"/>
<circle cx="369.2" cy="116.4" r="1" fill="#111"/>
</svg></body></html>
